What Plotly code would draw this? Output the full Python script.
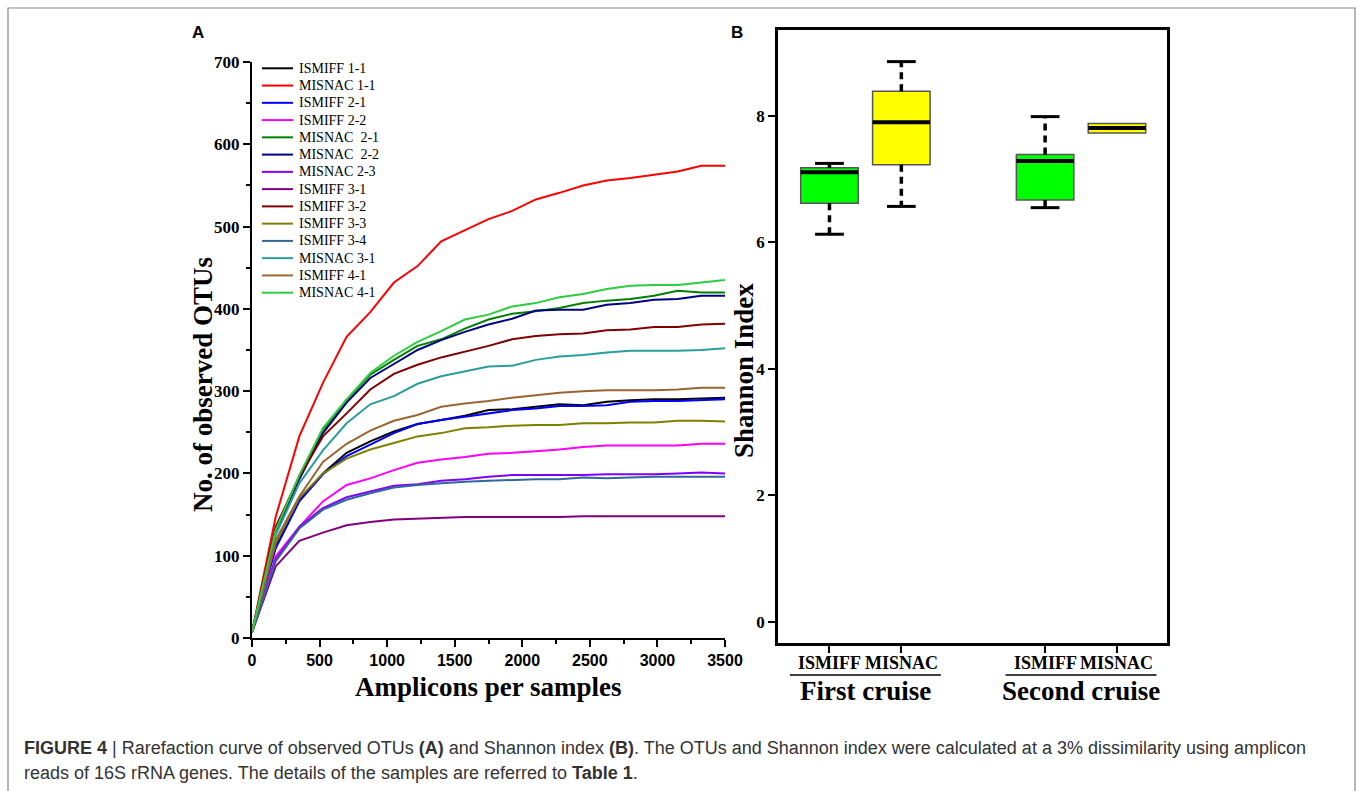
import plotly.graph_objects as go

W, H = 1357, 791

# ---------------- Panel A data: rarefaction curves ----------------
amplicons = [0, 175, 350, 525, 700, 875, 1050, 1225, 1400, 1575, 1750,
             1925, 2100, 2275, 2450, 2625, 2800, 2975, 3150, 3325, 3500]

sample_names = ["ISMIFF 1-1", "MISNAC 1-1", "ISMIFF 2-1", "ISMIFF 2-2",
                "MISNAC\u00a0 2-1", "MISNAC\u00a0 2-2", "MISNAC 2-3", "ISMIFF 3-1",
                "ISMIFF 3-2", "ISMIFF 3-3", "ISMIFF 3-4", "MISNAC 3-1",
                "ISMIFF 4-1", "MISNAC 4-1"]

sample_colors = ["#000000", "#ff0000", "#0000ff", "#ff00ff", "#008000", "#000080",
                 "#8000ff", "#800080", "#800000", "#808000", "#336699", "#2a9d9d",
                 "#996633", "#2ecc40"]

ismiff_1_1 = [7, 111, 168, 200, 225, 239, 251, 260, 265, 270, 277, 278, 281, 284, 283, 287, 289, 290, 290, 291, 292]
misnac_1_1 = [7, 147, 245, 310, 366, 396, 432, 452, 482, 496, 509, 519, 533, 541, 550, 556, 559, 563, 567, 574, 574]
ismiff_2_1 = [7, 109, 166, 199, 221, 235, 249, 260, 265, 269, 273, 277, 279, 282, 282, 283, 287, 288, 288, 289, 290]
ismiff_2_2 = [7, 99, 135, 166, 186, 194, 204, 213, 217, 220, 224, 225, 227, 229, 232, 234, 234, 234, 234, 236, 236]
misnac_2_1 = [7, 130, 197, 253, 289, 320, 338, 355, 363, 376, 387, 394, 397, 401, 407, 410, 412, 416, 422, 420, 420]
misnac_2_2 = [7, 128, 193, 249, 286, 316, 333, 350, 362, 372, 381, 388, 398, 399, 399, 405, 407, 411, 412, 416, 416]
misnac_2_3 = [7, 95, 135, 158, 171, 178, 185, 187, 191, 193, 196, 198, 198, 198, 198, 199, 199, 199, 200, 201, 200]
ismiff_3_1 = [7, 87, 118, 128, 137, 141, 144, 145, 146, 147, 147, 147, 147, 147, 148, 148, 148, 148, 148, 148, 148]
ismiff_3_2 = [7, 135, 196, 245, 273, 302, 321, 332, 341, 348, 355, 363, 367, 369, 370, 374, 375, 378, 378, 381, 382]
ismiff_3_3 = [7, 115, 170, 200, 218, 229, 237, 245, 249, 255, 256, 258, 259, 259, 261, 261, 262, 262, 264, 264, 263]
ismiff_3_4 = [7, 93, 133, 156, 168, 176, 183, 186, 188, 190, 191, 192, 193, 193, 195, 194, 195, 196, 196, 196, 196]
misnac_3_1 = [7, 125, 188, 228, 261, 284, 294, 309, 318, 324, 330, 331, 338, 342, 344, 347, 349, 349, 349, 350, 352]
ismiff_4_1 = [7, 119, 172, 214, 236, 252, 264, 271, 281, 285, 288, 292, 295, 298, 300, 301, 301, 301, 302, 304, 304]
misnac_4_1 = [7, 131, 198, 255, 290, 322, 343, 360, 373, 387, 393, 403, 407, 414, 418, 424, 428, 429, 429, 432, 435]

sample_values = [ismiff_1_1, misnac_1_1, ismiff_2_1, ismiff_2_2, misnac_2_1, misnac_2_2,
                 misnac_2_3, ismiff_3_1, ismiff_3_2, ismiff_3_3, ismiff_3_4, misnac_3_1,
                 ismiff_4_1, misnac_4_1]

# ---------------- Panel B data: Shannon index boxes ----------------
box_positions = [1, 2, 4, 5]
box_labels = ["ISMIFF", "MISNAC", "ISMIFF", "MISNAC"]
box_colors = ["#00ff00", "#ffff00", "#00ff00", "#ffff00"]
box_lower = [6.13, 6.57, 6.55, 7.73]
box_q1 = [6.62, 7.23, 6.67, 7.73]
box_median = [7.11, 7.90, 7.29, 7.81]
box_q3 = [7.18, 8.39, 7.39, 7.88]
box_upper = [7.25, 8.86, 7.99, 7.88]
cruise_names = ["First cruise", "Second cruise"]
cruise_centers = [1.5, 4.5]

serif = "Liberation Serif"
sans = "Liberation Sans"

fig = go.Figure()

for name, color, vals in zip(sample_names, sample_colors, sample_values):
    fig.add_trace(go.Scatter(x=amplicons, y=vals, mode="lines", name=name,
                             line=dict(color=color, width=2),
                             xaxis="x", yaxis="y", showlegend=False, hoverinfo="skip"))

# boxes
box_w = 0.8
fig.add_trace(go.Bar(x=box_positions, y=[q3 - q1 for q1, q3 in zip(box_q1, box_q3)],
                     base=box_q1, width=box_w,
                     marker=dict(color=box_colors, line=dict(color="#555555", width=1.5)),
                     xaxis="x2", yaxis="y2", showlegend=False, hoverinfo="skip"))
# whiskers
for p, lo, q1, q3, hi in zip(box_positions, box_lower, box_q1, box_q3, box_upper):
    if hi > q3:
        fig.add_trace(go.Scatter(x=[p, p], y=[q3, hi], mode="lines",
                                 line=dict(color="black", width=3.5, dash="7px,5px"),
                                 xaxis="x2", yaxis="y2", showlegend=False, hoverinfo="skip"))
        fig.add_trace(go.Scatter(x=[p - 0.2, p + 0.2], y=[hi, hi], mode="lines",
                                 line=dict(color="black", width=3),
                                 xaxis="x2", yaxis="y2", showlegend=False, hoverinfo="skip"))
    if lo < q1:
        fig.add_trace(go.Scatter(x=[p, p], y=[q1, lo], mode="lines",
                                 line=dict(color="black", width=3.5, dash="7px,5px"),
                                 xaxis="x2", yaxis="y2", showlegend=False, hoverinfo="skip"))
        fig.add_trace(go.Scatter(x=[p - 0.2, p + 0.2], y=[lo, lo], mode="lines",
                                 line=dict(color="black", width=3),
                                 xaxis="x2", yaxis="y2", showlegend=False, hoverinfo="skip"))
# medians
for p, m in zip(box_positions, box_median):
    fig.add_trace(go.Scatter(x=[p - box_w / 2, p + box_w / 2], y=[m, m], mode="lines",
                             line=dict(color="black", width=4),
                             xaxis="x2", yaxis="y2", showlegend=False, hoverinfo="skip"))


def px(x):
    return x / W


def py(y):
    return 1 - y / H


annotations = []
shapes = []

# custom legend
leg_y0, leg_dy = 68.3, 17.26
for i, (name, color) in enumerate(zip(sample_names, sample_colors)):
    yy = leg_y0 + i * leg_dy
    shapes.append(dict(type="line", xref="paper", yref="paper",
                       x0=px(262), x1=px(293), y0=py(yy), y1=py(yy),
                       line=dict(color=color, width=2)))
    annotations.append(dict(text=name, xref="paper", yref="paper", x=px(297), y=py(yy),
                            xanchor="left", yanchor="middle", showarrow=False,
                            font=dict(family=serif, size=14, color="black")))

# axis titles
annotations.append(dict(text="<b>No. of observed OTUs</b>", xref="paper", yref="paper",
                        x=px(203), y=py(385), textangle=-90, showarrow=False,
                        xanchor="center", yanchor="middle",
                        font=dict(family=serif, size=27, color="black")))
annotations.append(dict(text="<b>Amplicons per samples</b>", xref="paper", yref="paper",
                        x=px(488), y=py(687), showarrow=False,
                        xanchor="center", yanchor="middle",
                        font=dict(family=serif, size=27, color="black")))
annotations.append(dict(text="<b>Shannon Index</b>", xref="paper", yref="paper",
                        x=px(744), y=py(371), textangle=-90, showarrow=False,
                        xanchor="center", yanchor="middle",
                        font=dict(family=serif, size=27, color="black")))
# panel letters
annotations.append(dict(text="<b>A</b>", xref="paper", yref="paper", x=px(198), y=py(33),
                        showarrow=False, xanchor="center", yanchor="middle",
                        font=dict(family=sans, size=17, color="black")))
annotations.append(dict(text="<b>B</b>", xref="paper", yref="paper", x=px(737), y=py(33),
                        showarrow=False, xanchor="center", yanchor="middle",
                        font=dict(family=sans, size=17, color="black")))
# group labels under the boxes
for p, lab in zip(box_positions, box_labels):
    annotations.append(dict(text="<b>%s</b>" % lab, xref="x2", yref="paper", x=p, y=py(663),
                            showarrow=False, xanchor="center", yanchor="middle",
                            font=dict(family=serif, size=18, color="black")))
# cruise groups
for name, c in zip(cruise_names, cruise_centers):
    shapes.append(dict(type="line", xref="x2", yref="paper", x0=c - 1.05, x1=c + 1.05,
                       y0=py(675), y1=py(675), line=dict(color="black", width=1.5)))
    annotations.append(dict(text="<b>%s</b>" % name, xref="x2", yref="paper", x=c, y=py(691),
                            showarrow=False, xanchor="center", yanchor="middle",
                            font=dict(family=serif, size=27, color="black")))

# caption
cap1 = ("<b>FIGURE 4</b> | Rarefaction curve of observed OTUs <b>(A)</b> and Shannon index <b>(B)</b>. "
        "The OTUs and Shannon index were calculated at a 3% dissimilarity using amplicon")
cap2 = "reads of 16S rRNA genes. The details of the samples are referred to <b>Table 1</b>."
for txt, yy in [(cap1, 748), (cap2, 773)]:
    annotations.append(dict(text=txt, xref="paper", yref="paper", x=px(22), y=py(yy),
                            showarrow=False, xanchor="left", yanchor="middle",
                            font=dict(family=sans, size=18, color="#333333")))

# outer frame
shapes.append(dict(type="rect", xref="paper", yref="paper", x0=px(8), x1=px(1355),
                   y0=py(800), y1=py(8), line=dict(color="#888888", width=1.2),
                   fillcolor="rgba(0,0,0,0)"))

axis_common = dict(showgrid=False, zeroline=False, automargin=False,
                   showline=True, linecolor="black", ticks="outside",
                   ticklen=7, tickwidth=2, tickcolor="black")

fig.update_layout(
    width=W, height=H, autosize=False,
    margin=dict(l=0, r=0, t=0, b=0, pad=0, autoexpand=False),
    paper_bgcolor="white", plot_bgcolor="white",
    showlegend=False,
    barmode="overlay",
    hovermode=False,
    xaxis=dict(domain=[px(252), px(725)], range=[0, 3500], anchor="y", linewidth=2,
               tickvals=[0, 500, 1000, 1500, 2000, 2500, 3000, 3500],
               minor=dict(ticks="outside", ticklen=4, tickwidth=1.5, tickcolor="black", dtick=250),
               tickfont=dict(family=sans, size=16, color="black", weight="bold"),
               **axis_common),
    yaxis=dict(domain=[py(638), py(62)], range=[0, 700], anchor="x", linewidth=2,
               tickvals=[0, 100, 200, 300, 400, 500, 600, 700],
               minor=dict(ticks="outside", ticklen=4, tickwidth=1.5, tickcolor="black", dtick=50),
               tickfont=dict(family=serif, size=17, color="black", weight="bold"),
               **axis_common),
    xaxis2=dict(domain=[px(778), px(1167)], range=[0.284, 5.696], anchor="y2",
                linewidth=2.5, mirror=True,
                tickvals=box_positions, showticklabels=False,
                **axis_common),
    yaxis2=dict(domain=[py(643), py(30)], range=[-0.335, 9.36], anchor="x2",
                linewidth=2.5, mirror=True,
                tickvals=[0, 2, 4, 6, 8],
                tickfont=dict(family=serif, size=17, color="black", weight="bold"),
                **axis_common),
    annotations=annotations,
    shapes=shapes,
)

fig.write_html("out.html", config={"responsive": False, "displayModeBar": False},
               post_script="document.body.style.margin='0';document.body.style.overflow='hidden';")
